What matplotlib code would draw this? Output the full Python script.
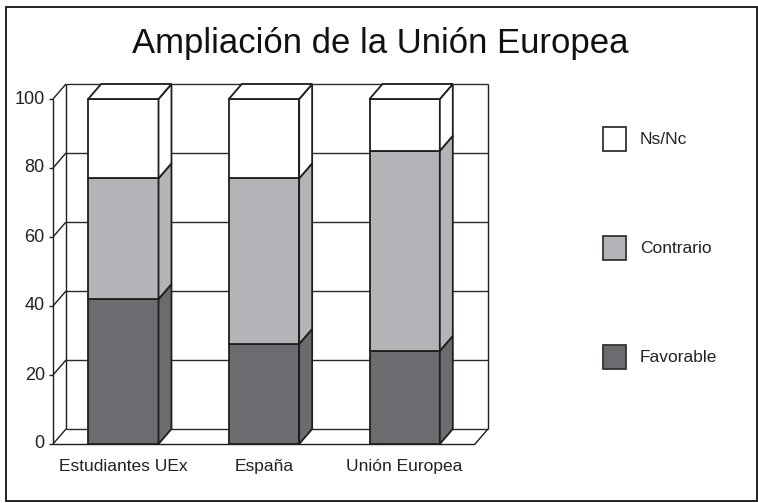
import matplotlib.pyplot as plt
from matplotlib.patches import Polygon, Rectangle
import numpy as np

plt.rcParams['font.family'] = ['Liberation Sans', 'DejaVu Sans']

categories = ['Estudiantes UEx', 'España', 'Unión Europea']
series_names = ['Favorable', 'Contrario', 'Ns/Nc']
favorable = [42, 29, 27]
contrario = [35, 48, 58]
nsnc = [23, 23, 15]
yticks = [0, 20, 40, 60, 80, 100]

colors = ['#6b6c70', '#b3b4b8', '#ffffff']
edge = '#1e1e1e'

W, H = 758, 503
fig = plt.figure(figsize=(W / 100, H / 100), dpi=100)
fig.patch.set_facecolor('white')

# plot area: front floor from px 53..475, y=0 at px 444, y=100 at px 99
ax = fig.add_axes([53 / W, (H - 444) / H, 422 / W, 345 / H])
ax.set_xlim(-0.5, 2.5)
ax.set_ylim(0, 100)
ax.axis('off')

# depth of the 3d box in data units
DX = 13 / 141
DY = 15 / 3.45
x0, x1 = -0.5, 2.5

def line(xs, ys, **kw):
    ax.plot(xs, ys, color=kw.pop('color', edge), lw=kw.pop('lw', 1.0),
            clip_on=False, solid_capstyle='butt', **kw)

# back wall and left wall
for y in yticks:
    line([x0 + DX, x1 + DX], [y + DY, y + DY], color='#2a2a2a')
    line([x0, x0 + DX], [y, y + DY])
    line([x0 - 0.028, x0], [y, y])
    ax.text(x0 - 0.058, y, str(y), ha='right', va='center', fontsize=13, color='#222222')
line([x0 + DX, x0 + DX], [DY, 100 + DY])
line([x1 + DX, x1 + DX], [DY, 100 + DY])
line([x0, x0], [0, 100])
line([x0, x1], [0, 0])
line([x1, x1 + DX], [0, DY])

# stacked 3d bars
x = np.arange(len(categories))
bw = 0.5
stack = [favorable, contrario, nsnc]
bottom = np.zeros(len(categories))
for vals, c in zip(stack, colors):
    vals = np.array(vals, dtype=float)
    ax.bar(x, vals, bw, bottom=bottom, color=c, edgecolor=edge, lw=1.3,
           clip_on=False, zorder=3)
    for xi, b, v in zip(x, bottom, vals):
        xr = xi + bw / 2
        side = Polygon([(xr, b), (xr + DX, b + DY), (xr + DX, b + v + DY), (xr, b + v)],
                       closed=True, facecolor=c, edgecolor=edge, lw=1.3,
                       clip_on=False, zorder=3)
        ax.add_patch(side)
    bottom = bottom + vals

for xi, t in zip(x, bottom):
    xl, xr = xi - bw / 2, xi + bw / 2
    top = Polygon([(xl, t), (xl + DX, t + DY), (xr + DX, t + DY), (xr, t)],
                  closed=True, facecolor='white', edgecolor=edge, lw=1.3,
                  clip_on=False, zorder=3)
    ax.add_patch(top)

for xi, lab in zip(x, categories):
    ax.text(xi, -6.6, lab, ha='center', va='center', fontsize=12.5, color='#222222')

# title
fig.text(380 / W, 1 - 43 / H, 'Ampliación de la Unión Europea', ha='center', va='center',
         fontsize=25, color='#111111')

# legend
leg_y = [357, 248, 139]
for name, c, yy in zip(series_names, colors, leg_y):
    fig.patches.append(Rectangle((603 / W, 1 - (yy + 12) / H), 23 / W, 24 / H,
                                 transform=fig.transFigure, facecolor=c,
                                 edgecolor='#333333', lw=1.3))
    fig.text(640 / W, 1 - yy / H, name, ha='left', va='center', fontsize=12.5, color='#222222')

# outer frame
fig.patches.append(Rectangle((5.5 / W, 2 / H), 751 / W, 494 / H, transform=fig.transFigure,
                             facecolor='none', edgecolor='#111111', lw=1.3))

plt.savefig('out.png', dpi=100, facecolor='white')
